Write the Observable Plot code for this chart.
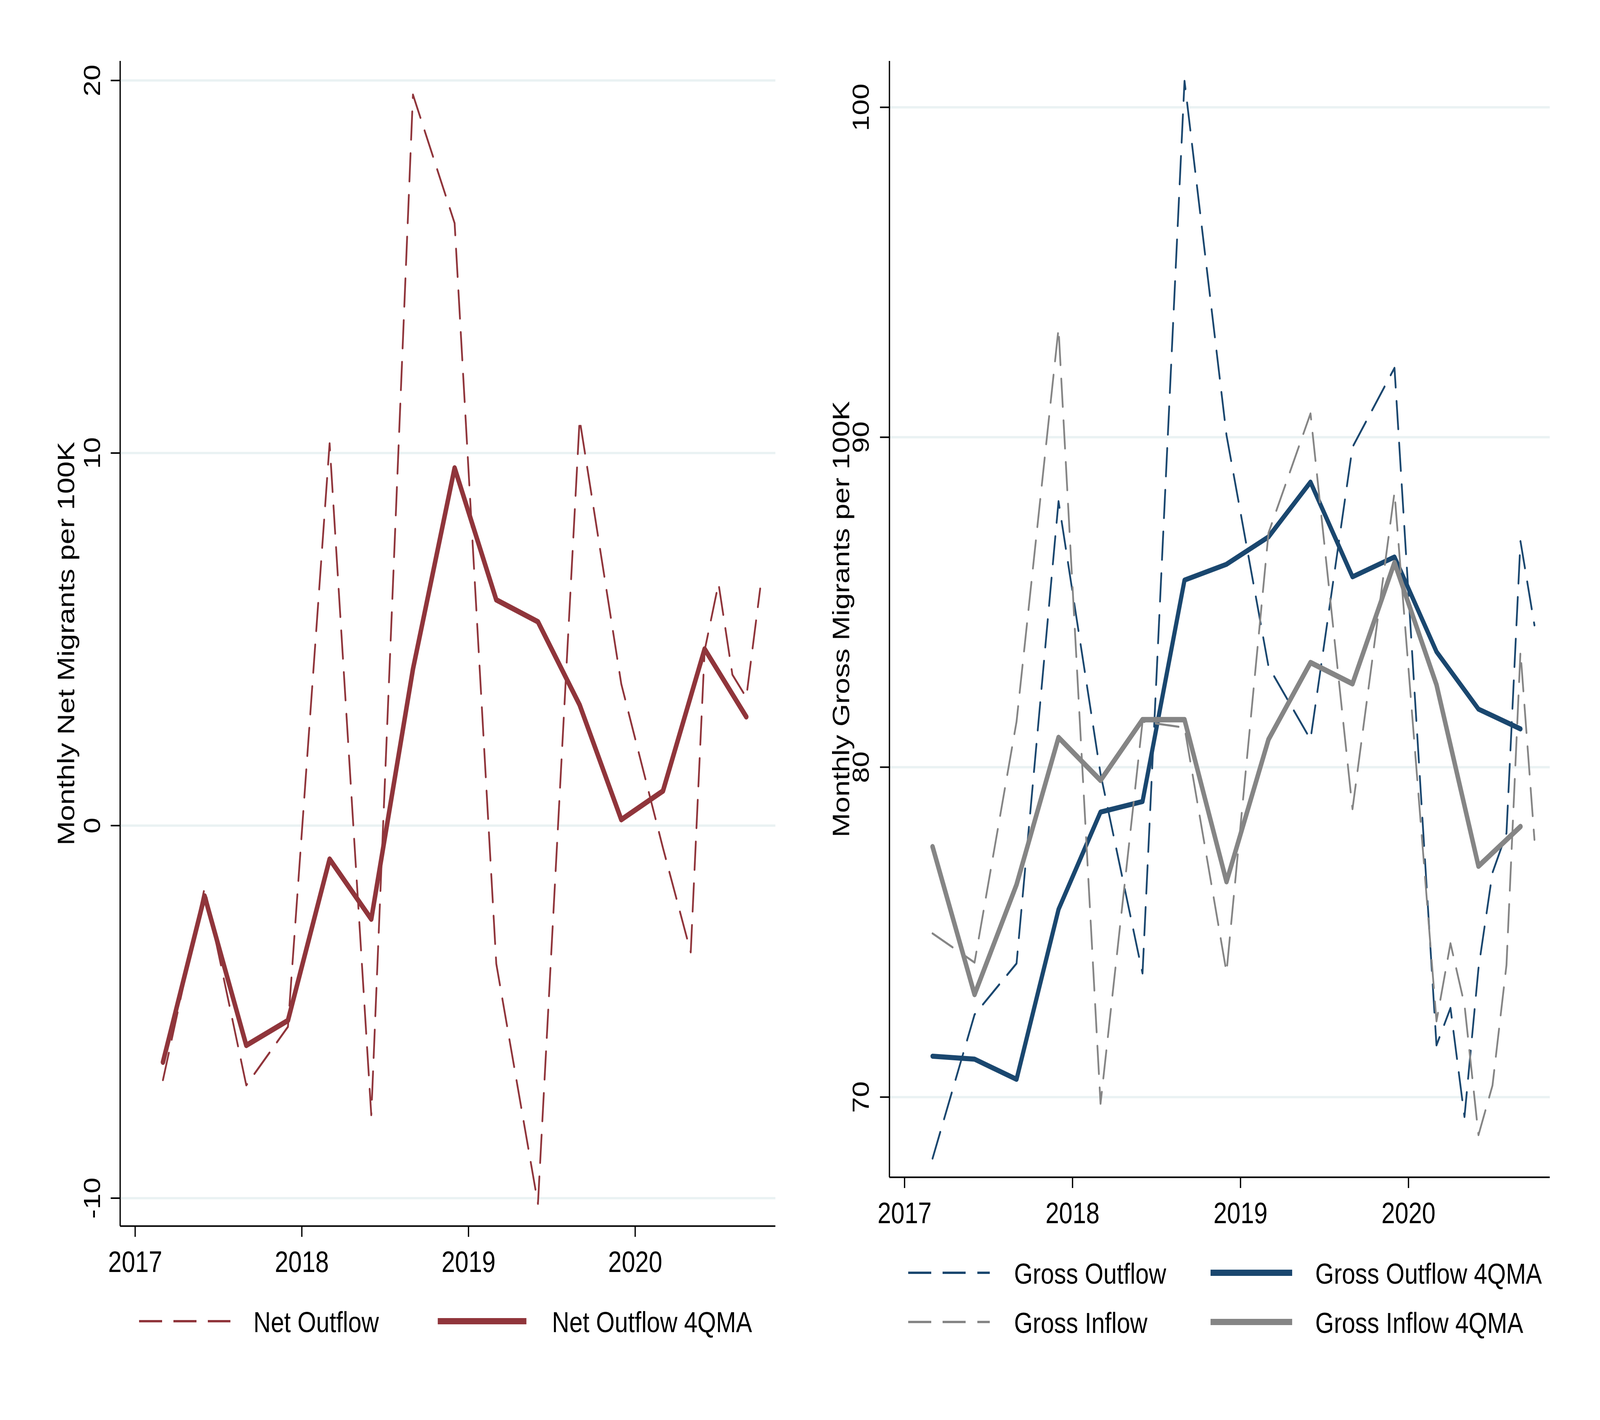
<!DOCTYPE html>
<html>
<head>
<meta charset="utf-8">
<script src="https://cdn.jsdelivr.net/npm/d3@7"></script>
<script src="https://cdn.jsdelivr.net/npm/@observablehq/plot@0.6"></script>
<style>
  html, body { margin: 0; padding: 0; background: #ffffff; overflow: hidden; width: 100%; height: 100%; }
  #page { position: absolute; left: 0; top: 0; width: 5000px; height: 3636px; background: #ffffff; overflow: hidden;
          transform-origin: 0 0;
          font-family: "Liberation Sans", Arial, Helvetica, sans-serif; color: #000; }
  .panel { position: absolute; top: 0; }
  .lg-text { position: absolute; font-size: 75px; line-height: 1; transform: translateY(-50%); white-space: nowrap; color: #000; }
  .lg-line { position: absolute; transform: translateY(-50%); }
</style>
</head>
<body>
<div id="page"></div>
<script>
// ---------------- data ----------------
// Dates: quarterly values (plotted at the last month of the quarter), then monthly values in 2020
const rawDates = ["2017q1","2017q2","2017q3","2017q4","2018q1","2018q2","2018q3","2018q4",
                  "2019q1","2019q2","2019q3","2019q4",
                  "2020m3","2020m4","2020m5","2020m6","2020m7","2020m8","2020m9","2020m10"];
const maDates  = ["2017q1","2017q2","2017q3","2017q4","2018q1","2018q2","2018q3","2018q4",
                  "2019q1","2019q2","2019q3","2019q4","2020q1","2020q2","2020q3"];

// Left panel: net outflow
const netOutflow   = [-6.83, -1.67, -6.97, -5.4, 10.26, -7.77, 19.62, 16.17, -3.71, -10.15, 10.91, 3.8,
                      -0.6, -2.0, -3.4, 4.7, 6.5, 4.05, 3.44, 6.36];
const netOutflowMA = [-6.35, -1.89, -5.90, -5.23, -0.90, -2.51, 4.2, 9.60, 6.06, 5.47, 3.24, 0.16,
                      0.93, 4.74, 2.92];

// Right panel: gross flows
const grossOutflow   = [68.14, 72.5, 74.05, 88.06, 79.8, 73.75, 100.8, 90.06, 83.05, 80.84, 89.7, 92.1,
                        71.57, 72.7, 69.4, 73.9, 76.8, 78.0, 86.85, 84.3];
const grossInflow    = [74.96, 74.08, 81.38, 93.3, 69.8, 81.38, 81.2, 73.78, 87.1, 90.72, 78.73, 88.33,
                        72.3, 74.66, 72.8, 68.85, 70.35, 74.0, 83.5, 77.8];
const grossOutflowMA = [71.24, 71.15, 70.54, 75.69, 78.64, 78.96, 85.67, 86.15, 86.98, 88.64, 85.77, 86.37,
                        83.5, 81.76, 81.16];
const grossInflowMA  = [77.59, 73.11, 76.44, 80.9, 79.6, 81.44, 81.44, 76.53, 80.84, 83.17, 82.53, 86.2,
                        82.5, 77.0, 78.2];

// Ticks and labels
const xTicks = [2017, 2018, 2019, 2020];
const yTicksLeft = [-10, 0, 10, 20];
const yTickLabelsLeft = ["-10", "0", "10", "20"];
const yTicksRight = [70, 80, 90, 100];
const yTickLabelsRight = ["70", "80", "90", "100"];
const yLabelLeft = "Monthly Net Migrants per 100K";
const yLabelRight = "Monthly Gross Migrants per 100K";
const legendLeft = ["Net Outflow", "Net Outflow 4QMA"];
const legendRight = ["Gross Outflow", "Gross Outflow 4QMA", "Gross Inflow", "Gross Inflow 4QMA"];

// ---------------- helpers ----------------
const toDec = s => {
  const y = +s.slice(0, 4);
  const n = +s.slice(5);
  return s[4] === "q" ? y + (3 * n - 1) / 12 : y + (n - 1) / 12;
};
const rows = (dates, vals) => dates.map((d, i) => ({x: toDec(d), y: vals[i]}));

const MAROON = "#90353b", NAVY = "#1a476f", GREY = "#858585", GRID = "#eaf2f3";
const DASH = "72,35";
const FONT = '"Liberation Sans", Arial, Helvetica, sans-serif';
const xDomain = [2016.91, 2020.842];

function basePlot({width, height, mL, mR, mT, mB, yDomain, yTicks, yTickLabels, yLabel, tickDx, labelDx, lines}) {
  return Plot.plot({
    width, height,
    marginLeft: mL, marginRight: mR, marginTop: mT, marginBottom: mB,
    x: {domain: xDomain},
    y: {domain: yDomain},
    style: {fontFamily: FONT, background: "#ffffff", color: "#000000", overflow: "visible", maxWidth: "none"},
    marks: [
      Plot.gridY(yTicks, {stroke: GRID, strokeOpacity: 1, strokeWidth: 6}),
      Plot.ruleX([xDomain[0]], {stroke: "#000", strokeWidth: 4}),
      Plot.ruleY([yDomain[0]], {stroke: "#000", strokeWidth: 4}),
      Plot.axisX(xTicks, {tickSize: 28, tickPadding: 36, tickFormat: d => String(d), fontSize: 76,
                          strokeWidth: 4, label: null}),
      Plot.axisY(yTicks, {tickSize: 29, tickFormat: () => "", strokeWidth: 4, label: null}),
      Plot.text(yTicks, {y: d => d, text: (d, i) => yTickLabels[i], frameAnchor: "left", dx: tickDx,
                         rotate: -90, textAnchor: "middle", lineAnchor: "middle", fontSize: 73, fill: "#000"}),
      Plot.text([yLabel], {text: d => d, frameAnchor: "left", dx: labelDx, rotate: -90,
                           textAnchor: "middle", lineAnchor: "middle", fontSize: 75, fill: "#000"}),
      ...lines
    ]
  });
}

const page = document.getElementById("page");
// Fit the 5000x3636 drawing to the actual window (handles device-pixel-ratio differences)
const fit = () => {
  const sx = (window.innerWidth || 5000) / 5000;
  const sy = (window.innerHeight || 3636) / 3636;
  page.style.transform = `scale(${sx}, ${sy})`;
};
fit();
window.addEventListener("resize", fit);

// ---------------- left panel ----------------
const left = basePlot({
  width: 2480, height: 3300, mL: 375, mR: 57, mT: 156, mB: 161,
  yDomain: [-10.75, 20.52], yTicks: yTicksLeft, yTickLabels: yTickLabelsLeft, yLabel: yLabelLeft,
  tickDx: -86, labelDx: -168,
  lines: [
    Plot.line(rows(rawDates, netOutflow), {x: "x", y: "y", stroke: MAROON, strokeWidth: 5.5,
      strokeDasharray: DASH, strokeLinejoin: "round"}),
    Plot.line(rows(maDates, netOutflowMA), {x: "x", y: "y", stroke: MAROON, strokeWidth: 14,
      strokeLinejoin: "round"})
  ]
});
const lw = document.createElement("div");
lw.className = "panel"; lw.style.left = "0px";
lw.appendChild(left);
page.appendChild(lw);

// ---------------- right panel ----------------
const right = basePlot({
  width: 2500, height: 3200, mL: 279, mR: 157, mT: 156, mB: 186,
  yDomain: [67.57, 101.4], yTicks: yTicksRight, yTickLabels: yTickLabelsRight, yLabel: yLabelRight,
  tickDx: -88, labelDx: -150,
  lines: [
    Plot.line(rows(rawDates, grossOutflow), {x: "x", y: "y", stroke: NAVY, strokeWidth: 5.5,
      strokeDasharray: DASH, strokeLinejoin: "round"}),
    Plot.line(rows(maDates, grossOutflowMA), {x: "x", y: "y", stroke: NAVY, strokeWidth: 13,
      strokeLinejoin: "round"}),
    Plot.line(rows(rawDates, grossInflow), {x: "x", y: "y", stroke: GREY, strokeWidth: 5.5,
      strokeDasharray: DASH, strokeLinejoin: "round"}),
    Plot.line(rows(maDates, grossInflowMA), {x: "x", y: "y", stroke: GREY, strokeWidth: 14,
      strokeLinejoin: "round"})
  ]
});
const rw = document.createElement("div");
rw.className = "panel"; rw.style.left = "2500px";
rw.appendChild(right);
page.appendChild(rw);

// ---------------- legends (HTML below the plots) ----------------
function legendItem({x1, x2, y, color, dashed, label, tx, ty}) {
  const ln = document.createElement("div");
  ln.className = "lg-line";
  ln.style.left = x1 + "px";
  ln.style.top = y + "px";
  ln.style.width = (x2 - x1) + "px";
  if (dashed) {
    ln.style.height = "6px";
    ln.style.background = `repeating-linear-gradient(to right, ${color} 0px, ${color} 72px, transparent 72px, transparent 108px)`;
  } else {
    ln.style.height = "16px";
    ln.style.background = color;
  }
  page.appendChild(ln);
  const t = document.createElement("div");
  t.className = "lg-text";
  t.style.left = tx + "px";
  t.style.top = (ty ?? y) + "px";
  t.textContent = label;
  page.appendChild(t);
}

legendItem({x1: 434, x2: 720, y: 3383, color: MAROON, dashed: true, label: legendLeft[0], tx: 792, ty: 3385});
legendItem({x1: 1368, x2: 1645, y: 3383, color: MAROON, dashed: false, label: legendLeft[1], tx: 1725, ty: 3385});

legendItem({x1: 2838, x2: 3093, y: 3259, color: NAVY, dashed: true, label: legendRight[0], tx: 3169, ty: 3261});
legendItem({x1: 3783, x2: 4038, y: 3259, color: NAVY, dashed: false, label: legendRight[1], tx: 4110, ty: 3261});
legendItem({x1: 2838, x2: 3093, y: 3385, color: GREY, dashed: true, label: legendRight[2], tx: 3169, ty: 3387});
legendItem({x1: 3783, x2: 4038, y: 3385, color: GREY, dashed: false, label: legendRight[3], tx: 4110, ty: 3387});
</script>
</body>
</html>
